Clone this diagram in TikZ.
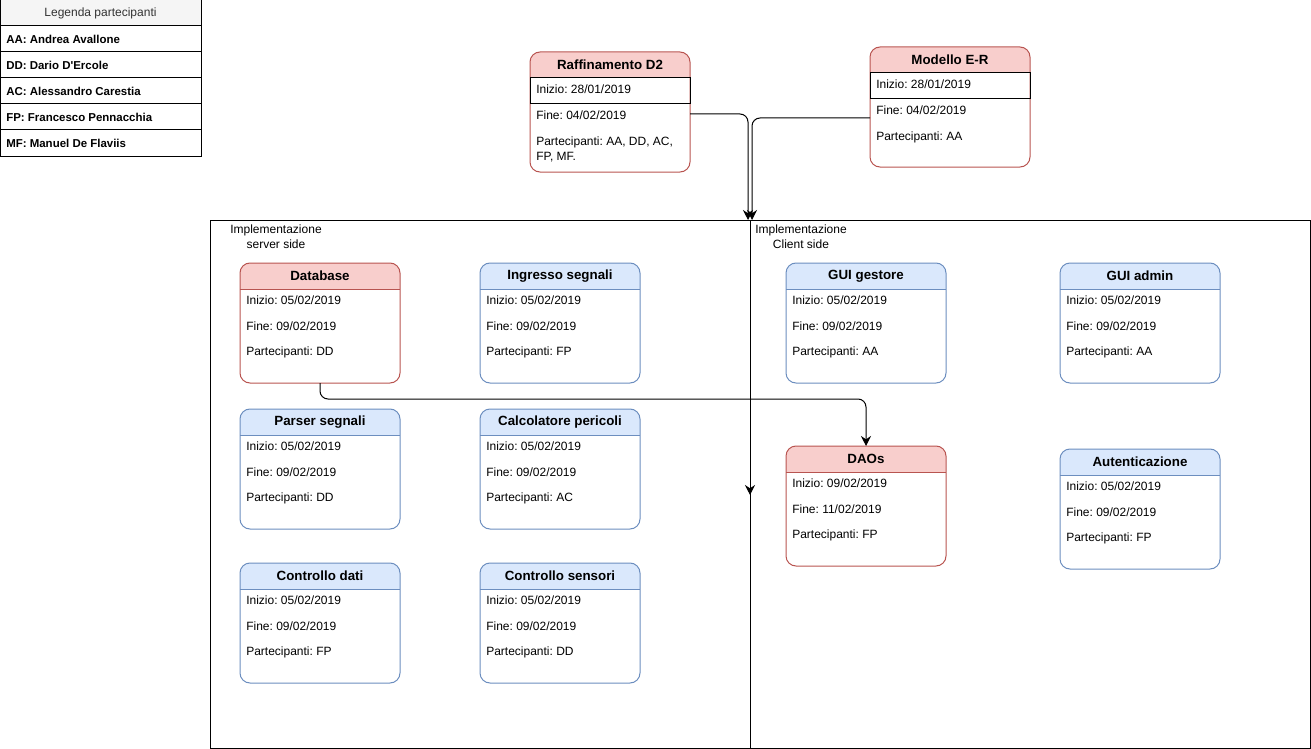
\documentclass[tikz,border=0pt]{standalone}
\usepackage{fontspec}
\setmainfont{Liberation Sans}
\usetikzlibrary{arrows.meta}
\frenchspacing

\definecolor{redfill}{HTML}{F8CECC}
\definecolor{redline}{HTML}{B85450}
\definecolor{bluefill}{HTML}{DAE8FC}
\definecolor{blueline}{HTML}{6C8EBF}
\definecolor{legfill}{HTML}{F5F5F5}
\definecolor{legtext}{HTML}{333333}

\tikzset{
  cardbox/.style={rectangle, draw=none, minimum width=120pt, minimum height=90pt,
    inner sep=0pt, outer sep=0pt, anchor=north west},
  titletext/.style={font=\fontsize{10}{12}\selectfont\bfseries, inner sep=0pt},
  rowtext/.style={font=\fontsize{9}{11.25}\selectfont, inner sep=0pt, anchor=west, align=left},
  legrow/.style={rectangle, draw=black, line width=0.75pt, minimum width=150.75pt,
    minimum height=19.5pt, inner sep=0pt, outer sep=0pt, anchor=north west},
  legname/.style={font=\fontsize{8.6}{10.5}\selectfont\bfseries, inner sep=0pt, anchor=west},
  area/.style={rectangle, draw=black, line width=0.75pt, inner sep=0pt, outer sep=0pt,
    anchor=north west, minimum height=396pt},
  arealabel/.style={font=\fontsize{9}{11.25}\selectfont, inner sep=0pt, align=center},
  edge/.style={draw=black, line width=0.75pt, rounded corners=6pt,
    -{Stealth[length=7.5pt, width=7.5pt, inset=2.5pt]}}
}

% task card: name, x, y, colour prefix, title, start, end, participants
\newcommand\taskcard[8]{%
  \node[cardbox] (#1) at (#2,#3) {};
  \begin{scope}
    \clip[rounded corners=7.5pt] (#1.north west) rectangle (#1.south east);
    \fill[#4fill] (#1.north west) rectangle ([yshift=-19.5pt]#1.north east);
  \end{scope}
  \draw[#4line, line width=0.75pt] ([yshift=-19.5pt]#1.north west) -- ([yshift=-19.5pt]#1.north east);
  \draw[#4line, line width=0.75pt, rounded corners=7.5pt] (#1.north west) rectangle (#1.south east);
  \node[titletext] (#1-t) at ([yshift=-9.75pt]#1.north) {#5};
  \node[rowtext] (#1-a) at ([xshift=4.5pt,yshift=-27.75pt]#1.north west) {Inizio: #6};
  \node[rowtext] (#1-b) at ([xshift=4.5pt,yshift=-47.25pt]#1.north west) {Fine: #7};
  \node[rowtext] (#1-c) at ([xshift=4.5pt,yshift=-66.75pt]#1.north west) {Partecipanti: #8};
}

% phase card with a framed start row: name, x, y, title, start, end, participants
\newcommand\phasecard[7]{%
  \node[cardbox] (#1) at (#2,#3) {};
  \begin{scope}
    \clip[rounded corners=7.5pt] (#1.north west) rectangle (#1.south east);
    \fill[redfill] (#1.north west) rectangle ([yshift=-19.5pt]#1.north east);
  \end{scope}
  \draw[redline, line width=0.75pt, rounded corners=7.5pt] (#1.north west) rectangle (#1.south east);
  \draw[black, line width=0.75pt] ([yshift=-19.5pt]#1.north west) rectangle ([yshift=-39pt]#1.north east);
  \node[titletext] (#1-t) at ([yshift=-9.75pt]#1.north) {#4};
  \node[rowtext] (#1-a) at ([xshift=4.5pt,yshift=-27.75pt]#1.north west) {Inizio: #5};
  \node[rowtext] (#1-b) at ([xshift=4.5pt,yshift=-47.25pt]#1.north west) {Fine: #6};
  \node[rowtext, anchor=north west] (#1-c) at ([xshift=4.5pt,yshift=-63.75pt]#1.north west) {#7};
}

\begin{document}
\begin{tikzpicture}[x=0.75pt, y=-0.75pt]
\useasboundingbox (0,0) rectangle (1311,749);

% participants legend
\node[legrow, fill=legfill] (leg0) at (0,0) {};
\node[font=\fontsize{9}{11.25}\selectfont, text=legtext, inner sep=0pt] (leg0-t) at (leg0.center) {Legenda partecipanti};
\node[legrow] (leg1) at (0,26) {};
\node[legrow] (leg2) at (0,52) {};
\node[legrow] (leg3) at (0,78) {};
\node[legrow] (leg4) at (0,104) {};
\node[legrow] (leg5) at (0,130) {};
\node[legname] (leg1-t) at ([xshift=4.5pt]leg1.west) {AA: Andrea Avallone};
\node[legname] (leg2-t) at ([xshift=4.5pt]leg2.west) {DD: Dario D\textquotesingle Ercole};
\node[legname] (leg3-t) at ([xshift=4.5pt]leg3.west) {AC: Alessandro Carestia};
\node[legname] (leg4-t) at ([xshift=4.5pt]leg4.west) {FP: Francesco Pennacchia};
\node[legname] (leg5-t) at ([xshift=4.5pt]leg5.west) {MF: Manuel De Flaviis};

% implementation areas
\node[area, minimum width=405pt] (server) at (210,220) {};
\node[area, minimum width=420pt] (client) at (750,220) {};
\node[arealabel] (server-t) at (276,236.5) {Implementazione\\server side};
\node[arealabel] (client-t) at (801,236.5) {Implementazione\\Client side};

% design phases
\phasecard{raff}{530}{52}{Raffinamento D2}{28/01/2019}{04/02/2019}{Partecipanti: AA, DD, AC,\\FP, MF.}
\phasecard{er}{870}{47}{Modello E-R}{28/01/2019}{04/02/2019}{Partecipanti: AA}

% server side tasks
\taskcard{db}{240}{263}{red}{Database}{05/02/2019}{09/02/2019}{DD}
\taskcard{ingr}{480}{263}{blue}{Ingresso segnali}{05/02/2019}{09/02/2019}{FP}
\taskcard{pars}{240}{409}{blue}{Parser segnali}{05/02/2019}{09/02/2019}{DD}
\taskcard{calc}{480}{409}{blue}{Calcolatore pericoli}{05/02/2019}{09/02/2019}{AC}
\taskcard{cdati}{240}{563}{blue}{Controllo dati}{05/02/2019}{09/02/2019}{FP}
\taskcard{csens}{480}{563}{blue}{Controllo sensori}{05/02/2019}{09/02/2019}{DD}

% client side tasks
\taskcard{guig}{786}{263}{blue}{GUI gestore}{05/02/2019}{09/02/2019}{AA}
\taskcard{guia}{1060}{263}{blue}{GUI admin}{05/02/2019}{09/02/2019}{AA}
\taskcard{dao}{786}{446}{red}{DAOs}{09/02/2019}{11/02/2019}{FP}
\taskcard{auth}{1060}{449}{blue}{Autenticazione}{05/02/2019}{09/02/2019}{FP}

% connectors
\coordinate (split) at (750,495);
\draw[edge] ([yshift=0.75pt]raff-b.west -| raff.east) -| ([xshift=-1.5pt]server.north east);
\draw[edge] ([yshift=-6pt]er-b.west -| er.west) -| ([xshift=1.5pt]server.north east);
\draw[edge] (server.north east) -- (split);
\draw[edge] (db.south) -- ++(0,16) -| (dao.north);
\end{tikzpicture}
\end{document}
